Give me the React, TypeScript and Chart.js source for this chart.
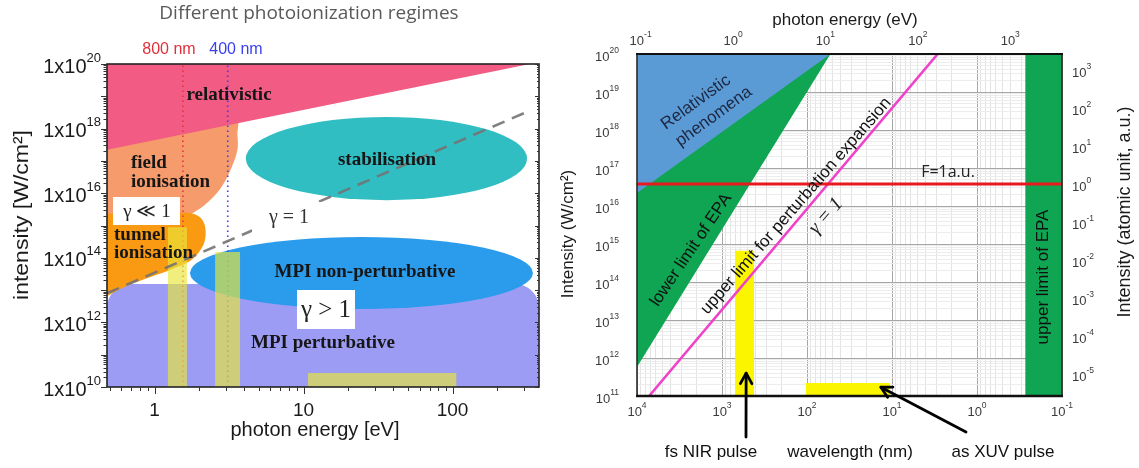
import React, { useEffect, useRef } from 'react';
import { Chart, registerables } from 'chart.js';

Chart.register(...registerables);

// ---------------- Left panel: photoionization regimes ----------------

const energyLimits = [0.48, 380]; // photon energy [eV]
const intensityLimits = [1e10, 1e20]; // intensity [W/cm²]
const energyTickLabels = [1, 10, 100];
const intensityTickExponents = [10, 12, 14, 16, 18, 20];

// [photon energy, intensity] outlines of the filled regimes
const relativisticRegion = [[0.48, 1e20], [330, 1e20], [0.48, 2.2e17]];
const fieldIonisationRegion = [
  [0.48, 2e18], [3.5, 2e18], [3.6, 6.3e17], [3.6, 2.2e17], [3.3, 6.5e16],
  [2.85, 1.7e16], [2.3, 5.4e15], [1.8, 2.4e15], [1.5, 1.7e15], [0.48, 1.7e15],
];
const tunnelIonisationRegion = [
  [0.48, 2.3e15], [1.27, 2.4e15], [1.73, 2.4e15], [2.02, 1.8e15], [2.18, 9.6e14],
  [2.18, 3.5e14], [1.99, 1.5e14], [1.73, 7.9e13], [1.27, 4.2e13], [0.86, 2.2e13],
  [0.63, 1.25e13], [0.48, 6.5e12],
];
const keldyshUnityLine = [[0.48, 8e12], [330, 3.6e18]];
const energy800nm = 1.55;
const energy400nm = 3.1;
// [lowest energy, highest energy, peak intensity]
const nirSource = [1.23, 1.65, 8.9e14];
const blueSource = [2.55, 3.75, 1.5e14];
const xuvSource = [10.7, 106, 2.7e10];
// [lowest energy, highest energy, lowest intensity, highest intensity]
const stabilisationExtent = [4.1, 316, 6.1e15, 2.3e18];
const mpiNonPerturbativeExtent = [1.73, 346, 2.6e12, 4.4e14];
const mpiPerturbativeExtent = [0.48, 380, 1e10, 1.55e13];

// ---------------- Right panel: intensity vs wavelength ----------------

const wavelengthLimits = [0.1, 1e4]; // nm, plotted decreasing
const photonEnergyLimits = [0.0914, 3630]; // eV, top axis
const intensityLimitsRight = [1e11, 1e20]; // W/cm²
const atomicUnitLimits = [2.64e-6, 2636]; // atomic units of intensity
const wavelengthTickExponents = [4, 3, 2, 1, 0, -1];
const photonEnergyTickExponents = [-1, 0, 1, 2, 3];
const intensityTickExponentsRight = [11, 12, 13, 14, 15, 16, 17, 18, 19, 20];
const atomicUnitTickExponents = [-5, -4, -3, -2, -1, 0, 1, 2, 3];

// [wavelength, intensity] outlines
const relativisticPhenomena = [[1e4, 1e20], [53, 1e20], [1e4, 2.2e16]];
const epaLowerLimitRegion = [[1e4, 1e20], [53, 1e20], [1e4, 5.8e11]];
const epaUpperLimitRegion = [[0.27, 1e11], [0.27, 1e20], [0.1, 1e20], [0.1, 1e11]];
const perturbationLimit = [[7200, 1e11], [2.9, 1e20]];
const fieldOneAtomicUnit = [[1e4, 1], [0.1, 1]]; // field strength 1 a.u.
// [long wavelength, short wavelength, peak intensity]
const nirPulse = [700, 420, 6.6e14];
const xuvPulse = [103, 10.6, 2.2e11];
// arrow tips [wavelength, intensity]
const nirArrowTip = [520, 4e11];
const xuvArrowTip = [13.5, 1.7e11];

// ---------------- helpers ----------------

const pts = (arr: number[][]) => arr.map(([x, y]) => ({ x, y }));
const rect = (x0: number, x1: number, y0: number, y1: number) =>
  [{ x: x0, y: y0 }, { x: x0, y: y1 }, { x: x1, y: y1 }, { x: x1, y: y0 }];

const logTicks = (min: number, max: number) => {
  const out: number[] = [];
  for (let k = Math.floor(Math.log10(min)) - 1; k <= Math.ceil(Math.log10(max)); k++) {
    for (let m = 1; m < 10; m++) {
      const v = parseFloat((m * Math.pow(10, k)).toPrecision(6));
      if (v >= min * 0.9999 && v <= max * 1.0001) out.push(v);
    }
  }
  return out;
};
const isDecade = (v: number) => Math.abs(Math.log10(v) - Math.round(Math.log10(v))) < 1e-6;

function drawPower(ctx: CanvasRenderingContext2D, base: string, exp: string, x: number, y: number,
  align: 'left' | 'right' | 'center', baseFont: string, supFont: string, rise: number) {
  ctx.font = baseFont;
  const wb = ctx.measureText(base).width;
  ctx.font = supFont;
  const ws = ctx.measureText(exp).width;
  const total = wb + ws;
  const left = align === 'right' ? x - total : align === 'left' ? x : x - total / 2;
  ctx.textAlign = 'left';
  ctx.textBaseline = 'middle';
  ctx.font = baseFont;
  ctx.fillText(base, left, y);
  ctx.font = supFont;
  ctx.fillText(exp, left + wb, y - rise);
}

function drawText(ctx: CanvasRenderingContext2D, text: string, x: number, y: number, font: string,
  color: string, angleDeg = 0, align: CanvasTextAlign = 'center', scaleX = 1) {
  ctx.save();
  ctx.translate(x, y);
  ctx.rotate((angleDeg * Math.PI) / 180);
  ctx.scale(scaleX, 1);
  ctx.font = font;
  ctx.fillStyle = color;
  ctx.textAlign = align;
  ctx.textBaseline = 'middle';
  ctx.fillText(text, 0, 0);
  ctx.restore();
}

function drawArrow(ctx: CanvasRenderingContext2D, x0: number, y0: number, x1: number, y1: number) {
  const ang = Math.atan2(y1 - y0, x1 - x0);
  const head = 12;
  ctx.save();
  ctx.strokeStyle = '#000';
  ctx.lineWidth = 2.8;
  ctx.lineCap = 'round';
  ctx.lineJoin = 'round';
  ctx.beginPath();
  ctx.moveTo(x0, y0);
  ctx.lineTo(x1, y1);
  ctx.stroke();
  ctx.beginPath();
  ctx.moveTo(x1 - head * Math.cos(ang - 0.5), y1 - head * Math.sin(ang - 0.5));
  ctx.lineTo(x1, y1);
  ctx.lineTo(x1 - head * Math.cos(ang + 0.5), y1 - head * Math.sin(ang + 0.5));
  ctx.stroke();
  ctx.restore();
}

const area = (data: any[], color: string, order: number, tension = 0) => ({
  data, showLine: true, fill: 'shape', backgroundColor: color, borderColor: 'rgba(0,0,0,0)',
  borderWidth: 0, pointRadius: 0, tension, order,
});
const line = (data: any[], color: string, width: number, order: number, dash: number[] = [], yAxisID = 'y') => ({
  data, showLine: true, fill: false, borderColor: color, borderWidth: width, borderDash: dash,
  pointRadius: 0, order, yAxisID,
});

// ---------------- left panel decorations ----------------

const SERIF_B = 'bold 19px "Liberation Serif", "DejaVu Serif", serif';
const SANS = '"Liberation Sans", Arial, sans-serif';

const regimeDecor = {
  id: 'regimeDecor',
  beforeDatasetsDraw(chart: any) {
    const { ctx, chartArea: a, scales: { x, y } } = chart;
    const box = (e: number[]) => ({
      x0: x.getPixelForValue(e[0]), x1: x.getPixelForValue(e[1]),
      y0: y.getPixelForValue(e[3]), y1: y.getPixelForValue(e[2]),
    });
    ctx.save();
    ctx.beginPath();
    ctx.rect(a.left, a.top, a.width, a.height);
    ctx.clip();
    const p = box(mpiPerturbativeExtent);
    ctx.fillStyle = '#9c9cf4';
    ctx.beginPath();
    ctx.roundRect(p.x0, p.y0, p.x1 - p.x0, p.y1 - p.y0, [24, 24, 0, 0]);
    ctx.fill();
    const ellipses: [number[], string][] = [[stabilisationExtent, '#31bec3'], [mpiNonPerturbativeExtent, '#2b9bec']];
    for (const [ext, color] of ellipses) {
      const b = box(ext);
      ctx.fillStyle = color;
      ctx.beginPath();
      ctx.ellipse((b.x0 + b.x1) / 2, (b.y0 + b.y1) / 2, (b.x1 - b.x0) / 2, (b.y1 - b.y0) / 2, 0, 0, Math.PI * 2);
      ctx.fill();
    }
    ctx.restore();
  },
  afterDatasetsDraw(chart: any) {
    const { ctx } = chart;
    ctx.save();
    const ink = '#161616';
    drawText(ctx, 'relativistic', 229, 95, SERIF_B, ink);
    drawText(ctx, 'field', 131, 163, SERIF_B, ink, 0, 'left');
    drawText(ctx, 'ionisation', 131, 182, SERIF_B, ink, 0, 'left');
    ctx.fillStyle = '#ffffff';
    ctx.fillRect(113, 197, 67, 28);
    drawText(ctx, 'γ ≪ 1', 147, 212, '19px "Liberation Serif", "DejaVu Serif", serif', '#222');
    drawText(ctx, 'tunnel', 114, 235, SERIF_B, ink, 0, 'left');
    drawText(ctx, 'ionisation', 114, 253, SERIF_B, ink, 0, 'left');
    drawText(ctx, 'stabilisation', 387, 160, SERIF_B, ink);
    // label interrupts the dashed γ = 1 boundary
    ctx.fillStyle = '#ffffff';
    ctx.fillRect(252, 202, 76, 31);
    drawText(ctx, 'γ = 1', 289, 218, '20px "Liberation Serif", "DejaVu Serif", serif', '#333');
    drawText(ctx, 'MPI non-perturbative', 365, 272, SERIF_B, ink);
    ctx.fillStyle = '#ffffff';
    ctx.fillRect(297, 290, 58, 39);
    drawText(ctx, 'γ > 1', 326, 310, '25px "Liberation Serif", "DejaVu Serif", serif', '#222');
    drawText(ctx, 'MPI perturbative', 323, 343, SERIF_B, ink);
    ctx.restore();
  },
  afterDraw(chart: any) {
    const { ctx, chartArea: a, scales: { x, y } } = chart;
    ctx.save();
    // frame
    ctx.strokeStyle = '#222';
    ctx.lineWidth = 1.6;
    ctx.strokeRect(a.left, a.top, a.right - a.left, a.bottom - a.top);
    // ticks
    ctx.lineWidth = 1;
    ctx.strokeStyle = '#333';
    ctx.beginPath();
    for (const v of logTicks(intensityLimits[0], intensityLimits[1])) {
      const py = Math.round(y.getPixelForValue(v)) + 0.5;
      const len = isDecade(v) ? 6 : 3.5;
      ctx.moveTo(a.left - len, py);
      ctx.lineTo(a.left, py);
      ctx.moveTo(a.right, py);
      ctx.lineTo(a.right - (isDecade(v) ? 4 : 2), py);
    }
    for (const v of logTicks(energyLimits[0], energyLimits[1])) {
      const px = Math.round(x.getPixelForValue(v)) + 0.5;
      const len = isDecade(v) ? 7 : 4;
      ctx.moveTo(px, a.bottom);
      ctx.lineTo(px, a.bottom + len);
    }
    ctx.stroke();
    ctx.fillStyle = '#1a1a1a';
    for (const k of intensityTickExponents) {
      const py = y.getPixelForValue(Math.pow(10, k));
      drawPower(ctx, '1x10', String(k), 101, py + 3, 'right', `20px ${SANS}`, `13px ${SANS}`, 9);
    }
    for (const v of energyTickLabels) {
      drawText(ctx, String(v), x.getPixelForValue(v), 411, `19px ${SANS}`, '#1a1a1a');
    }
    drawText(ctx, 'photon energy [eV]', 315, 430, `20px ${SANS}`, '#1a1a1a');
    drawText(ctx, 'intensity [W/cm²]', 22, 215, `20px ${SANS}`, '#1a1a1a', -90, 'center', 1.15);
    drawText(ctx, 'Different photoionization regimes', 309, 14, '19px "Open Sans", sans-serif', '#5a5a5a');
    drawText(ctx, '800 nm', 169, 50, `16px ${SANS}`, '#e2303c');
    drawText(ctx, '400 nm', 236, 50, `16px ${SANS}`, '#3a3ef0');
    ctx.restore();
  },
};

// ---------------- right panel decorations ----------------

const spectrumDecor = {
  id: 'spectrumDecor',
  afterDatasetsDraw(chart: any) {
    const { ctx } = chart;
    ctx.save();
    // two-line label in the relativistic corner
    ctx.translate(154, 110);
    ctx.rotate((-36 * Math.PI) / 180);
    ctx.font = `17px ${SANS}`;
    ctx.fillStyle = '#1c2742';
    ctx.textAlign = 'center';
    ctx.textBaseline = 'middle';
    ctx.fillText('Relativistic', -2, -11);
    ctx.fillText('phenomena', 4, 11);
    ctx.restore();
    drawText(ctx, 'lower limit of EPA', 141, 250, `17px ${SANS}`, '#111', -56);
    drawText(ctx, 'upper limit for perturbation expansion', 246, 206, `17px ${SANS}`, '#111', -49);
    drawText(ctx, 'γ = 1', 276, 216, 'italic 20px "Liberation Serif", "DejaVu Serif", serif', '#222', -49);
    drawText(ctx, 'F=1a.u.', 398, 172, '16px "Open Sans", sans-serif', '#222');
    drawText(ctx, 'upper limit of EPA', 493, 277, `17px ${SANS}`, '#111', -90);
  },
  afterDraw(chart: any) {
    const { ctx, chartArea: a, scales } = chart;
    const { x, x2, y, y2 } = scales;
    ctx.save();
    // frame
    ctx.strokeStyle = '#2a2a2a';
    ctx.lineWidth = 1.6;
    ctx.strokeRect(a.left, a.top, a.right - a.left, a.bottom - a.top);
    ctx.strokeStyle = '#111';
    ctx.lineWidth = 2.6;
    ctx.beginPath();
    ctx.moveTo(a.left - 1, a.bottom);
    ctx.lineTo(a.right + 1, a.bottom);
    ctx.stroke();
    ctx.lineWidth = 2;
    ctx.beginPath();
    ctx.moveTo(a.left - 1, a.top);
    ctx.lineTo(a.right + 1, a.top);
    ctx.stroke();

    const bf = `13px ${SANS}`;
    const sf = `8.5px ${SANS}`;
    ctx.fillStyle = '#3a3a3a';
    for (const k of intensityTickExponentsRight) {
      drawPower(ctx, '10', String(k), a.left - 18, y.getPixelForValue(Math.pow(10, k)) + 3, 'right', bf, sf, 6);
    }
    for (const k of atomicUnitTickExponents) {
      drawPower(ctx, '10', String(k), a.right + 10, y2.getPixelForValue(Math.pow(10, k)) + 3, 'left', bf, sf, 6);
    }
    for (const k of wavelengthTickExponents) {
      drawPower(ctx, '10', String(k), x.getPixelForValue(Math.pow(10, k)), a.bottom + 16, 'center', bf, sf, 6);
    }
    for (const k of photonEnergyTickExponents) {
      drawPower(ctx, '10', String(k), x2.getPixelForValue(Math.pow(10, k)), a.top - 13, 'center', bf, sf, 6);
    }
    const tf = `17px ${SANS}`;
    drawText(ctx, 'photon energy (eV)', 295, 20, tf, '#1a1a1a');
    drawText(ctx, 'Intensity (W/cm²)', 18, 234, tf, '#1a1a1a', -90);
    drawText(ctx, 'Intensity (atomic unit, a.u.)', 575, 212, `18px ${SANS}`, '#1a1a1a', -90);
    drawText(ctx, 'fs NIR pulse', 161, 452, tf, '#111');
    drawText(ctx, 'wavelength (nm)', 300, 452, tf, '#111');
    drawText(ctx, 'as XUV pulse', 453, 452, tf, '#111');

    drawArrow(ctx, 196, 437, x.getPixelForValue(nirArrowTip[0]), y.getPixelForValue(nirArrowTip[1]));
    drawArrow(ctx, 416, 432, x.getPixelForValue(xuvArrowTip[0]), y.getPixelForValue(xuvArrowTip[1]));
    ctx.restore();
  },
};

// ---------------- charts ----------------

const fixTicks = (values: number[]) => (scale: any) => {
  scale.ticks = values.map((value) => ({ value }));
};

function leftConfig(): any {
  const bandYellow = 'rgba(232,230,58,0.66)';
  return {
    type: 'scatter',
    data: {
      datasets: [
        area(pts(fieldIonisationRegion), '#f59b6c', 20, 0.35),
        area(pts(relativisticRegion), '#f15b84', 19),
        area(pts(tunnelIonisationRegion), '#f99a12', 18, 0.35),
        line(pts([[energy800nm, intensityLimits[0]], [energy800nm, intensityLimits[1]]]), '#e8343c', 1.6, 12, [1.6, 3.4]),
        line(pts([[energy400nm, intensityLimits[0]], [energy400nm, intensityLimits[1]]]), '#4040ee', 1.6, 11, [1.6, 3.4]),
        area(rect(nirSource[0], nirSource[1], intensityLimits[0], nirSource[2]), bandYellow, 6),
        area(rect(blueSource[0], blueSource[1], intensityLimits[0], blueSource[2]), bandYellow, 5),
        area(rect(xuvSource[0], xuvSource[1], intensityLimits[0], xuvSource[2]), bandYellow, 4),
        line(pts(keldyshUnityLine), 'rgba(115,115,115,0.9)', 2.6, 1, [13, 8]),
      ],
    },
    options: {
      responsive: false,
      animation: false,
      devicePixelRatio: 1,
      events: [],
      layout: { padding: { left: 0, right: 21, top: 64, bottom: 0 } },
      plugins: { legend: { display: false }, tooltip: { enabled: false } },
      scales: {
        x: {
          type: 'logarithmic', position: 'bottom', min: energyLimits[0], max: energyLimits[1],
          ticks: { display: false }, grid: { display: false }, border: { display: false },
          afterBuildTicks: fixTicks(logTicks(energyLimits[0], energyLimits[1])),
          afterFit: (s: any) => { s.height = 81; },
        },
        y: {
          type: 'logarithmic', position: 'left', min: intensityLimits[0], max: intensityLimits[1],
          ticks: { display: false }, grid: { display: false }, border: { display: false },
          afterBuildTicks: fixTicks(logTicks(intensityLimits[0], intensityLimits[1])),
          afterFit: (s: any) => { s.width = 107; },
        },
      },
    },
    plugins: [regimeDecor],
  };
}

function rightConfig(): any {
  const gridColor = (c: any) => (c.tick && isDecade(c.tick.value) ? '#a7a7a7' : '#e3e3e3');
  return {
    type: 'scatter',
    data: {
      datasets: [
        area(pts(epaLowerLimitRegion), '#0fa552', 20),
        area(pts(relativisticPhenomena), '#5b9bd5', 19),
        area(pts(epaUpperLimitRegion), '#0fa552', 18),
        area(rect(nirPulse[0], nirPulse[1], intensityLimitsRight[0], nirPulse[2]), '#fbf500', 10),
        area(rect(xuvPulse[0], xuvPulse[1], intensityLimitsRight[0], xuvPulse[2]), '#fbf500', 9),
        line(pts(perturbationLimit), '#ef42c9', 2.6, 3),
        line(pts(fieldOneAtomicUnit), '#e8191f', 3, 2, [], 'y2'),
      ],
    },
    options: {
      responsive: false,
      animation: false,
      devicePixelRatio: 1,
      events: [],
      layout: { padding: 0 },
      plugins: { legend: { display: false }, tooltip: { enabled: false } },
      scales: {
        x: {
          type: 'logarithmic', position: 'bottom', reverse: true,
          min: wavelengthLimits[0], max: wavelengthLimits[1],
          ticks: { display: false }, border: { display: false },
          grid: { color: gridColor, lineWidth: 1, drawTicks: false },
          afterBuildTicks: fixTicks(logTicks(wavelengthLimits[0], wavelengthLimits[1])),
          afterFit: (s: any) => { s.height = 72; },
        },
        x2: {
          type: 'logarithmic', position: 'top',
          min: photonEnergyLimits[0], max: photonEnergyLimits[1],
          ticks: { display: false }, border: { display: false }, grid: { display: false },
          afterBuildTicks: fixTicks(photonEnergyTickExponents.map((k) => Math.pow(10, k))),
          afterFit: (s: any) => { s.height = 54; },
        },
        y: {
          type: 'logarithmic', position: 'left',
          min: intensityLimitsRight[0], max: intensityLimitsRight[1],
          ticks: { display: false }, border: { display: false },
          grid: { color: (c: any) => (c.tick && isDecade(c.tick.value) ? '#a7a7a7' : '#ececec'), lineWidth: 1, drawTicks: false },
          afterBuildTicks: fixTicks(logTicks(intensityLimitsRight[0], intensityLimitsRight[1])),
          afterFit: (s: any) => { s.width = 87; },
        },
        y2: {
          type: 'logarithmic', position: 'right',
          min: atomicUnitLimits[0], max: atomicUnitLimits[1],
          ticks: { display: false }, border: { display: false }, grid: { display: false },
          afterBuildTicks: fixTicks(atomicUnitTickExponents.map((k) => Math.pow(10, k))),
          afterFit: (s: any) => { s.width = 77; },
        },
      },
    },
    plugins: [spectrumDecor],
  };
}

export default function App() {
  const leftRef = useRef<HTMLCanvasElement>(null);
  const rightRef = useRef<HTMLCanvasElement>(null);

  useEffect(() => {
    const left = new Chart(leftRef.current as HTMLCanvasElement, leftConfig());
    const right = new Chart(rightRef.current as HTMLCanvasElement, rightConfig());
    return () => {
      left.destroy();
      right.destroy();
    };
  }, []);

  return (
    <div style={{ position: 'fixed', left: 0, top: 0, width: 1139, height: 468, background: '#ffffff', overflow: 'hidden' }}>
      <canvas ref={leftRef} width={560} height={468}
        style={{ position: 'absolute', left: 0, top: 0, width: 560, height: 468 }} />
      <canvas ref={rightRef} width={589} height={468}
        style={{ position: 'absolute', left: 550, top: 0, width: 589, height: 468 }} />
    </div>
  );
}
